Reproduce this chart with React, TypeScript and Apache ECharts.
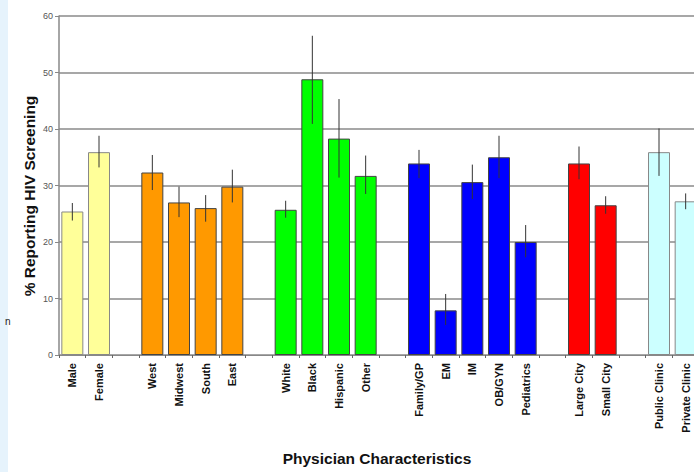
import React, { useEffect, useRef } from "react";
import * as echarts from "echarts";

// Categories ("" marks a spacer slot between groups)
const categories = [
  "Male", "Female", "",
  "West", "Midwest", "South", "East", "",
  "White", "Black", "Hispanic", "Other", "",
  "Family/GP", "EM", "IM", "OB/GYN", "Pediatrics", "",
  "Large City", "Small City", "",
  "Public Clinic", "Private Clinic",
];
// Percent reporting HIV screening (null for spacers)
const values = [
  25.4, 35.9, null,
  32.3, 27.0, 26.0, 29.8, null,
  25.7, 48.8, 38.3, 31.7, null,
  33.9, 7.9, 30.6, 35.0, 20.0, null,
  33.9, 26.5, null,
  35.9, 27.2,
];
const errLow = [
  23.8, 33.2, null,
  29.2, 24.4, 23.6, 27.0, null,
  24.3, 40.9, 31.4, 28.5, null,
  31.3, 5.3, 27.6, 31.3, 17.3, null,
  31.1, 25.0, null,
  31.7, 25.8,
];
const errHigh = [
  26.9, 38.8, null,
  35.4, 29.8, 28.3, 32.8, null,
  27.3, 56.5, 45.3, 35.3, null,
  36.3, 10.8, 33.7, 38.8, 23.0, null,
  36.9, 28.1, null,
  40.1, 28.6,
];
const colors = [
  "#ffff99", "#ffff99", null,
  "#ff9900", "#ff9900", "#ff9900", "#ff9900", null,
  "#00ff00", "#00ff00", "#00ff00", "#00ff00", null,
  "#0000ff", "#0000ff", "#0000ff", "#0000ff", "#0000ff", null,
  "#ff0000", "#ff0000", null,
  "#ccffff", "#ccffff",
];
const yTicks = [0, 10, 20, 30, 40, 50, 60];

const FONT = "Arial, 'Liberation Sans', sans-serif";

export default function App() {
  const ref = useRef<HTMLDivElement>(null);
  useEffect(() => {
    if (!ref.current) return;
    const chart = echarts.init(ref.current, null, { renderer: "svg" });
    const barData = values.map((v, i) =>
      v == null
        ? "-"
        : {
            value: v,
            itemStyle: {
              color: colors[i],
              borderColor: colors[i] === "#ffff99" || colors[i] === "#ccffff" ? "#888" : "#444",
              borderWidth: 1,
            },
          }
    );
    const errData = values
      .map((v, i) => (v == null ? null : [i, errLow[i], errHigh[i]]))
      .filter((d) => d != null);
    chart.setOption({
      animation: false,
      backgroundColor: "#ffffff",
      grid: { left: 59, right: 3, top: 16, bottom: 117, containLabel: false },
      graphic: [
        { type: "rect", left: 0, top: 0, shape: { width: 8, height: 472 }, style: { fill: "#e6f3fc" }, z: -1 },
        { type: "text", x: 5, y: 316, style: { text: "n", font: `10px ${FONT}`, fill: "#222" } },
        {
          type: "text",
          x: 29,
          y: 196,
          rotation: Math.PI / 2,
          style: {
            text: "% Reporting HIV Screening",
            font: `bold 15.5px ${FONT}`,
            fill: "#111",
            align: "center",
            verticalAlign: "middle",
          },
        },
        {
          type: "text",
          x: 377,
          y: 458,
          style: {
            text: "Physician Characteristics",
            font: `bold 15.5px ${FONT}`,
            fill: "#111",
            align: "center",
            verticalAlign: "middle",
          },
        },
      ],
      xAxis: {
        type: "category",
        data: categories,
        axisLine: { lineStyle: { color: "#888", width: 1 } },
        axisTick: { show: true, alignWithLabel: false, length: 3, lineStyle: { color: "#666" } },
        axisLabel: {
          rotate: 90,
          interval: 0,
          margin: 8,
          fontFamily: FONT,
          fontWeight: "bold",
          fontSize: 11,
          color: "#111",
        },
      },
      yAxis: {
        type: "value",
        min: 0,
        max: 60,
        interval: 10,
        axisLine: { show: true, lineStyle: { color: "#888", width: 1.5 } },
        axisTick: { show: true, length: 4, lineStyle: { color: "#888" } },
        axisLabel: {
          fontFamily: FONT,
          fontSize: 9,
          color: "#555",
          margin: 6,
          formatter: (v: number) => (yTicks.includes(v) ? String(v) : ""),
        },
        splitLine: { show: true, lineStyle: { color: "#8a8a8a", width: 1.5 } },
      },
      series: [
        {
          type: "bar",
          data: barData,
          barWidth: 22,
        },
        {
          type: "custom",
          data: errData,
          z: 10,
          renderItem: (params: any, api: any) => {
            const x = api.value(0);
            const lo = api.coord([x, api.value(1)]);
            const hi = api.coord([x, api.value(2)]);
            return {
              type: "line",
              shape: { x1: lo[0], y1: lo[1], x2: hi[0], y2: hi[1] },
              style: { stroke: "#333", lineWidth: 1 },
            };
          },
        },
      ],
    });
    return () => chart.dispose();
  }, []);
  return (
    <div style={{ position: "fixed", left: 0, top: 0, width: 694, height: 472, overflow: "hidden", background: "#fff" }}>
      <div ref={ref} style={{ width: 702, height: 472 }} />
    </div>
  );
}
